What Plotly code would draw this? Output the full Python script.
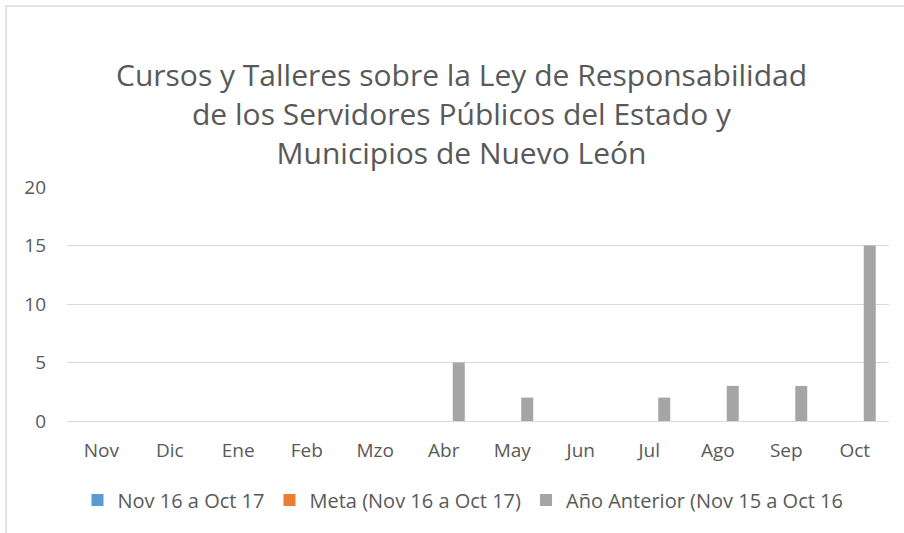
import plotly.graph_objects as go

months = ["Nov", "Dic", "Ene", "Feb", "Mzo", "Abr", "May", "Jun", "Jul", "Ago", "Sep", "Oct"]
actual = [0, 0, 0, 0, 0, 0, 0, 0, 0, 0, 0, 0]
meta = [0, 0, 0, 0, 0, 0, 0, 0, 0, 0, 0, 0]
anterior = [0, 0, 0, 0, 0, 5, 2, 0, 2, 3, 3, 15]
series_names = ["Nov 16 a Oct 17", "Meta (Nov 16 a Oct 17)", "Año Anterior (Nov 15 a Oct 16"]
colors = ["#5B9BD5", "#ED7D31", "#A5A5A5"]

font = "Open Sans"
txt = "#595959"

fig = go.Figure()
for name, vals, c in zip(series_names, [actual, meta, anterior], colors):
    fig.add_trace(go.Bar(x=months, y=vals, name=name, marker=dict(color=c, line=dict(width=0))))

fig.update_layout(
    width=904, height=533,
    margin=dict(l=67, r=15, t=187, b=112),
    paper_bgcolor="white", plot_bgcolor="white",
    barmode="group", bargap=0.343, bargroupgap=0.2,
    font=dict(family=font, color=txt, size=19),
    showlegend=True,
    legend=dict(orientation="h", x=(463 - 67) / 822, xanchor="center", y=-0.338, yanchor="middle",
                font=dict(size=20, color=txt), itemwidth=30, traceorder="normal"),
    xaxis=dict(showgrid=False, showline=False, zeroline=False, ticks="",
               tickfont=dict(size=19, color=txt), ticklabelstandoff=16),
    yaxis=dict(range=[0, 20], dtick=5, showgrid=True, gridcolor="#D9D9D9", gridwidth=1,
               zeroline=True, zerolinecolor="#D9D9D9", zerolinewidth=1, showline=False,
               tickfont=dict(size=19, color=txt), ticklabelstandoff=20),
)

fig.add_annotation(
    text="Cursos y Talleres sobre la Ley de Responsabilidad<br>de los Servidores Públicos del Estado y<br>Municipios de Nuevo León",
    xref="paper", yref="paper", x=(461 - 67) / 822, y=(421 - 113) / 234,
    xanchor="center", yanchor="middle", showarrow=False,
    font=dict(family=font, size=30, color=txt), align="center")

# chart frame (top and left edges visible)
fig.add_shape(type="line", xref="paper", yref="paper",
              x0=(6 - 67) / 822, x1=(904 - 67) / 822, y0=(421 - 6) / 234, y1=(421 - 6) / 234,
              line=dict(color="#D9D9D9", width=1.5))
fig.add_shape(type="line", xref="paper", yref="paper",
              x0=(6 - 67) / 822, x1=(6 - 67) / 822, y0=(421 - 6) / 234, y1=(421 - 533) / 234,
              line=dict(color="#D9D9D9", width=1.5))

fig.write_html("out.html", config={"displayModeBar": False},
               post_script="document.body.style.margin='0';")
